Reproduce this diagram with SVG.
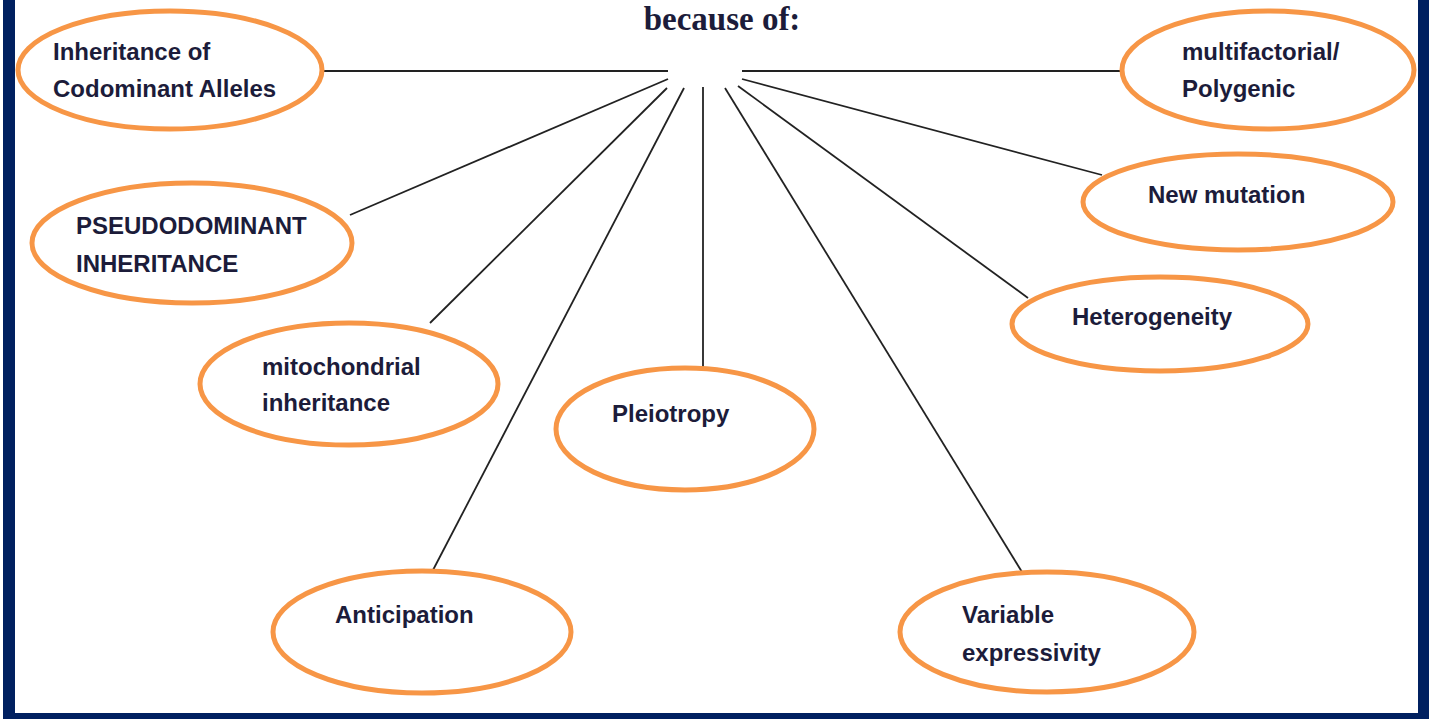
<svg xmlns="http://www.w3.org/2000/svg" width="1429" height="719" viewBox="0 0 1429 719">
  <style>
    .frame { fill: #002060; }
    .bubble { fill: #ffffff; stroke: #f79646; stroke-width: 5; }
    .label { font-family: "Liberation Sans", Arial, sans-serif; font-weight: bold; font-size: 24px; fill: #1c1c3a; }
    .title { font-family: "Liberation Serif", "Times New Roman", serif; font-weight: bold; font-size: 33px; fill: #1c1c3a; }
    .spoke { stroke: #222222; stroke-width: 1.8; fill: none; }
  </style>

  <!-- page background and navy frame -->
  <rect x="0" y="0" width="1429" height="719" fill="#ffffff"/>
  <rect class="frame" x="3" y="0" width="12" height="719"/>
  <rect class="frame" x="1418" y="0" width="11" height="719"/>
  <rect class="frame" x="3" y="713" width="1426" height="6"/>

  <text class="title" x="722" y="30" text-anchor="middle">because of:</text>

  <!-- spokes from the hub to each cause -->
  <g id="connectors">
    <line class="spoke" x1="668" y1="71" x2="322" y2="71"/>
    <line class="spoke" x1="742" y1="71" x2="1122" y2="71"/>
    <line class="spoke" x1="668" y1="79" x2="350" y2="215"/>
    <line class="spoke" x1="667" y1="88" x2="430" y2="323"/>
    <line class="spoke" x1="684" y1="88" x2="432" y2="572"/>
    <line class="spoke" x1="703" y1="87" x2="703" y2="368"/>
    <line class="spoke" x1="725" y1="88" x2="1022" y2="572"/>
    <line class="spoke" x1="738" y1="86" x2="1028" y2="298"/>
    <line class="spoke" x1="742" y1="79" x2="1102" y2="175"/>
  </g>

  <g id="codominant">
    <ellipse class="bubble" cx="170" cy="70" rx="152" ry="59"/>
    <text class="label" x="53" y="60">Inheritance of</text>
    <text class="label" x="53" y="97">Codominant Alleles</text>
  </g>

  <g id="multifactorial">
    <ellipse class="bubble" cx="1268" cy="70" rx="146" ry="59"/>
    <text class="label" x="1182" y="60">multifactorial/</text>
    <text class="label" x="1182" y="97">Polygenic</text>
  </g>

  <g id="pseudodominant">
    <ellipse class="bubble" cx="192" cy="243" rx="160" ry="60"/>
    <text class="label" x="76" y="234">PSEUDODOMINANT</text>
    <text class="label" x="76" y="272">INHERITANCE</text>
  </g>

  <g id="new-mutation">
    <ellipse class="bubble" cx="1238" cy="202" rx="155" ry="48"/>
    <text class="label" x="1148" y="203">New mutation</text>
  </g>

  <g id="heterogeneity">
    <ellipse class="bubble" cx="1160" cy="324" rx="148" ry="47"/>
    <text class="label" x="1072" y="325">Heterogeneity</text>
  </g>

  <g id="mitochondrial">
    <ellipse class="bubble" cx="349" cy="384" rx="149" ry="61"/>
    <text class="label" x="262" y="375">mitochondrial</text>
    <text class="label" x="262" y="411">inheritance</text>
  </g>

  <g id="pleiotropy">
    <ellipse class="bubble" cx="685" cy="429" rx="129" ry="61"/>
    <text class="label" x="612" y="422">Pleiotropy</text>
  </g>

  <g id="anticipation">
    <ellipse class="bubble" cx="422" cy="632" rx="149" ry="61"/>
    <text class="label" x="335" y="623">Anticipation</text>
  </g>

  <g id="variable-expressivity">
    <ellipse class="bubble" cx="1047" cy="632" rx="147" ry="60"/>
    <text class="label" x="962" y="623">Variable</text>
    <text class="label" x="962" y="661">expressivity</text>
  </g>
</svg>
